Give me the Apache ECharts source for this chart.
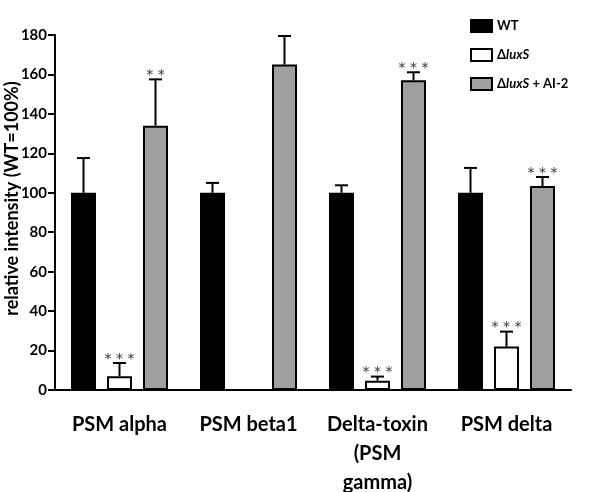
<!DOCTYPE html>
<html><head><meta charset="utf-8">
<script src="https://cdn.jsdelivr.net/npm/echarts@6/dist/echarts.min.js"></script>
<style>html,body{margin:0;padding:0;background:#fff}#c{width:600px;height:492px}</style>
</head><body><div id="c"></div>
<script>
const categories = ['PSM alpha', 'PSM beta1', 'Delta-toxin\n(PSM\ngamma)', 'PSM delta'];
const seriesNames = ['WT', 'ΔluxS', 'ΔluxS + AI-2'];
const wtValues = [100, 100, 100, 100];
const luxSValues = [7, 0, 4.7, 22];
const ai2Values = [134, 165, 157, 103.4];
const wtErrTop = [117.6, 105, 103.8, 112.6];
const luxSErrTop = [13.7, null, 6.8, 29.6];
const ai2ErrTop = [157.5, 179.5, 161.1, 108];
const wtSig = ['', '', '', ''];
const luxSSig = ['***', '', '***', '***'];
const ai2Sig = ['**', '', '***', '***'];
const yTicks = [0, 20, 40, 60, 80, 100, 120, 140, 160, 180];

const FONT = 'Lato';
const colors = ['#000000', '#ffffff', '#a0a0a0'];
const values = [wtValues, luxSValues, ai2Values];
const errs = [wtErrTop, luxSErrTop, ai2ErrTop];
const sigs = [wtSig, luxSSig, ai2Sig];
const BAR_W = 25, STEP = 36;

const barSeries = seriesNames.map((n, k) => ({
  name: n, type: 'bar', data: values[k], barWidth: BAR_W, barGap: '44%',
  itemStyle: { color: colors[k], borderColor: '#000', borderWidth: 2 },
  z: 2
}));

const errSeries = [0, 1, 2].map(k => ({
  type: 'custom', name: seriesNames[k] + ' err', z: 1,
  data: categories.map((c, i) => [i, values[k][i], errs[k][i]]),
  renderItem: function (params, api) {
    const i = api.value(0);
    const v = api.value(1);
    const e = api.value(2);
    const s = sigs[k][i];
    const base = api.coord([i, v]);
    const x = base[0] + (k - 1) * STEP;
    const children = [];
    let topY = base[1];
    if (e != null && !isNaN(e)) {
      const t = api.coord([i, e]);
      topY = t[1];
      children.push({ type: 'line', shape: { x1: x, y1: base[1], x2: x, y2: t[1] }, style: { stroke: '#000', lineWidth: 2 } });
      children.push({ type: 'line', shape: { x1: x - 6.5, y1: t[1], x2: x + 6.5, y2: t[1] }, style: { stroke: '#000', lineWidth: 2 } });
    }
    if (s) {
      children.push({ type: 'text', style: { text: s.split('').join(' '), x: x, y: topY - 4, align: 'center', verticalAlign: 'middle', fill: '#333', font: '14px "DejaVu Sans"' } });
    }
    return { type: 'group', children: children };
  }
}));

const chart = echarts.init(document.getElementById('c'));
chart.setOption({
  animation: false,
  backgroundColor: '#fff',
  grid: { left: 55, right: 29, top: 35, bottom: 102, containLabel: false, outerBoundsMode: 'none' },
  legend: {
    data: seriesNames, orient: 'vertical', left: 465, top: 14,
    itemWidth: 21, itemHeight: 12, itemGap: 15, icon: 'rect',
    textStyle: { fontFamily: FONT, fontWeight: 'bold', fontSize: 13, color: '#000',
      rich: { i: { fontFamily: FONT, fontWeight: 'bold', fontStyle: 'italic', fontSize: 13, color: '#000' } } },
    formatter: function (name) { return name.replace('luxS', '{i|luxS}'); }
  },
  xAxis: {
    type: 'category', data: categories,
    axisLine: { lineStyle: { color: '#000', width: 2 } },
    axisTick: { alignWithLabel: true, length: 5, lineStyle: { color: '#000', width: 2 } },
    axisLabel: { interval: 0, margin: 20, fontFamily: FONT, fontWeight: 'bold', fontSize: 20, color: '#000', lineHeight: 29 }
  },
  yAxis: {
    type: 'value', min: 0, max: 180, interval: 20,
    name: 'relative intensity (WT=100%)', nameLocation: 'middle', nameGap: 34, nameMoveOverlap: false,
    nameTextStyle: { fontFamily: FONT, fontWeight: 'bold', fontSize: 18, color: '#000', padding: [0, 0, 0, 28] },
    axisLine: { show: true, lineStyle: { color: '#000', width: 2 } },
    axisTick: { show: true, length: 7, lineStyle: { color: '#000', width: 2 } },
    splitLine: { show: false },
    axisLabel: { margin: 8, fontFamily: FONT, fontWeight: 'bold', fontSize: 15, color: '#000',
      formatter: function (v) { return yTicks.indexOf(v) >= 0 ? String(v) : ''; } }
  },
  series: barSeries.concat(errSeries)
});
</script></body></html>
